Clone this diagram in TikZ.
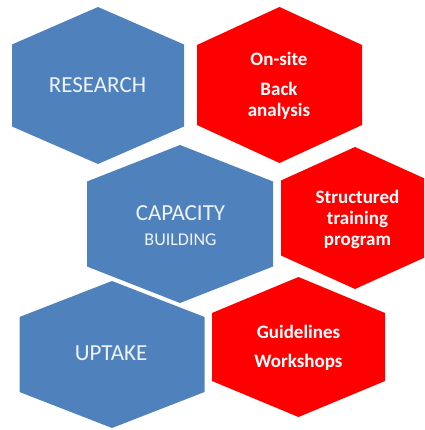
\documentclass[tikz,border=0pt]{standalone}
\usepackage{fontspec}
\setmainfont{Carlito}
\definecolor{hexblue}{HTML}{4F81BD}
\definecolor{hexred}{HTML}{FF0000}
\definecolor{paleblue}{HTML}{EEF3FA}
\tikzset{
  topic/.style={text=paleblue, align=center, font=\fontsize{23}{27}\selectfont},
  detail/.style={text=white, align=center, font=\bfseries\fontsize{19}{21}\selectfont}
}
% centre x, centre y, half width, half side, half height, colour
\newcommand{\hexcell}[6]{%
  \fill[#6] (#1,#2-#5) -- (#1+#3,#2-#4) -- (#1+#3,#2+#4) -- (#1,#2+#5)
    -- (#1-#3,#2+#4) -- (#1-#3,#2-#4) -- cycle;}

\begin{document}
\begin{tikzpicture}[x=1pt,y=-1pt]
	\clip (0,0) rectangle (424,430);
	% left column
	\hexcell{98}{85.5}{86}{41}{78.5}{hexblue}
	\hexcell{180}{224}{93}{42.5}{79}{hexblue}
	\hexcell{112}{354.5}{92.5}{37.5}{73.5}{hexblue}
	% right column
	\hexcell{279.5}{85}{82.5}{40}{78}{hexred}
	\hexcell{355}{218}{74}{37.5}{71}{hexred}
	\hexcell{298.5}{347}{86.5}{34}{70}{hexred}
	\node (research) [topic] at (97.5,85) {RESEARCH};
	\node (capacity) [topic] at (180.5,226) {CAPACITY\\[-2pt]{\fontsize{18}{20}\selectfont BUILDING}};
	\node (uptake) [topic] at (111,353) {UPTAKE};
	\node (onsite) [detail] at (279,86) {On-site\\[9pt]Back\\analysis};
	\node (training) [detail] at (357.5,219) {Structured\\training\\program};
	\node (guidelines) [detail] at (298.5,348) {Guidelines\\[8pt]Workshops};
\end{tikzpicture}
\end{document}
